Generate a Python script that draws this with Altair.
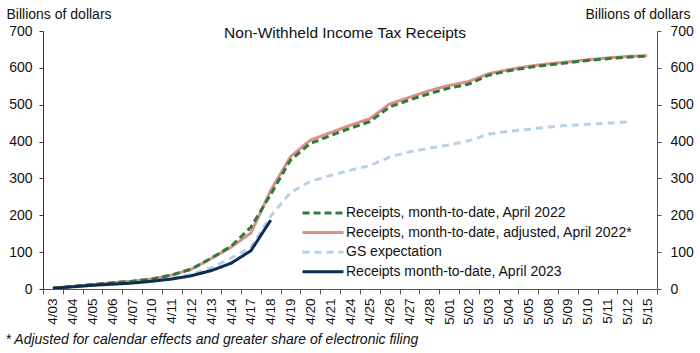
import altair as alt
import pandas as pd

dates = ["4/03","4/04","4/05","4/06","4/07","4/10","4/11","4/12","4/13","4/14",
         "4/17","4/18","4/19","4/20","4/21","4/24","4/25","4/26","4/27","4/28",
         "5/01","5/02","5/03","5/04","5/05","5/08","5/09","5/10","5/11","5/12","5/15"]

receipts_2022 = [2, 7, 12, 17, 21, 27, 38, 54, 84, 116, 168, 257, 350, 395, 416, 436, 454,
                 494, 513, 530, 545, 556, 580, 592, 601, 608, 614, 620, 625, 629, 632]
receipts_2022_adj = [2, 7, 12, 17, 21, 27, 38, 54, 83, 114, 152, 268, 359, 404, 424, 444, 462,
                     502, 520, 538, 552, 563, 584, 595, 604, 611, 616, 622, 627, 631, 633]
gs_expectation = [2, 6, 10, 14, 17, 22, 29, 40, 58, 84, 113, 198, 262, 292, 308, 322, 335,
                  358, 372, 382, 391, 402, 420, 428, 433, 439, 444, 447, 450, 453]
receipts_2023 = [2, 6, 10, 13, 16, 21, 27, 36, 50, 70, 104, 187]

names = ["Receipts, month-to-date, April 2022",
         "Receipts, month-to-date, adjusted, April 2022*",
         "GS expectation",
         "Receipts month-to-date, April 2023"]
colors = ["#2f7a3c", "#d9918b", "#b9d1e8", "#0f2d52"]
dashes = [[7, 4], [1, 0], [7, 5], [1, 0]]

title_text = "Non-Withheld Income Tax Receipts"

rows = []
# draw order: GS, adjusted, 2022, 2023
for name, vals in [(names[2], gs_expectation), (names[1], receipts_2022_adj),
                   (names[0], receipts_2022), (names[3], receipts_2023)]:
    for d, v in zip(dates, vals):
        rows.append({"date": d, "value": v, "series": name})
df = pd.DataFrame(rows)

FONT = "Liberation Sans"

x = alt.X("date:N", sort=dates, scale=alt.Scale(domain=dates, paddingInner=0, paddingOuter=0),
          axis=alt.Axis(title="* Adjusted for calendar effects and greater share of electronic filing",
                        titleFontStyle="italic", titleFontWeight="normal", titleFontSize=14,
                        titleFont=FONT, titleColor="#111", titleX=-38, titleY=54,
                        titleAlign="left", titleBaseline="alphabetic", titleAnchor="start",
                        labelAngle=-90, labelFontSize=13.5, labelFont=FONT, labelColor="#111",
                        labelPadding=4, tickBand="extent", tickSize=5, tickColor="#555",
                        domainColor="#555", labelAlign="right", labelBaseline="middle"))

yscale = alt.Scale(domain=[0, 700], nice=False)

lines = alt.Chart(df).mark_line(strokeWidth=3).encode(
    x=x,
    y=alt.Y("value:Q", scale=yscale,
            axis=alt.Axis(values=list(range(0, 701, 100)), grid=False, title="Billions of dollars",
                          titleAngle=0, titleX=-37, titleY=-13, titleAlign="left",
                          titleBaseline="alphabetic", titleFontSize=14, titleFontWeight="normal",
                          titleFont=FONT, titleColor="#111", labelFontSize=14, labelFont=FONT,
                          labelColor="#111", labelPadding=7, tickSize=4, tickColor="#333",
                          domainColor="#333")),
    color=alt.Color("series:N", scale=alt.Scale(domain=names, range=colors),
                    legend=alt.Legend(title=None, orient="none", legendX=273, legendY=175,
                                      labelFontSize=14, labelFont=FONT, labelColor="#111",
                                      symbolType="M-4,0H4", symbolSize=105,
                                      symbolStrokeWidth=3, rowPadding=5.6,
                                      labelOffset=16, labelLimit=400)),
    strokeDash=alt.StrokeDash("series:N", scale=alt.Scale(domain=names, range=dashes), legend=None),
)

right = alt.Chart(df).mark_line(opacity=0).encode(
    x=x,
    y=alt.Y("value:Q", scale=yscale,
            axis=alt.Axis(orient="right", values=list(range(0, 701, 100)), grid=False,
                          title="Billions of dollars", titleAngle=0, titleX=33, titleY=-13,
                          titleAlign="right", titleBaseline="alphabetic", titleFontSize=14,
                          titleFontWeight="normal", titleFont=FONT, titleColor="#111",
                          labelFontSize=14, labelFont=FONT, labelColor="#111", labelPadding=9,
                          tickSize=4, tickColor="#3c5a78", domainColor="#3c5a78")),
    detail="series:N",
)

title = alt.Chart(pd.DataFrame({"t": [title_text]})).mark_text(
    font=FONT, fontSize=15.5, color="#111", align="center", baseline="alphabetic"
).encode(text="t:N", x=alt.value(302), y=alt.value(7))

chart = alt.layer(lines, right, title).resolve_scale(y="independent").properties(
    width=614, height=258,
    padding={"left": 43, "top": 31, "right": 43, "bottom": 64},
    autosize=alt.AutoSizeParams(type="none"),
).configure_view(strokeWidth=0)

chart.save("out.html", embed_options={"renderer": "svg", "actions": False})
